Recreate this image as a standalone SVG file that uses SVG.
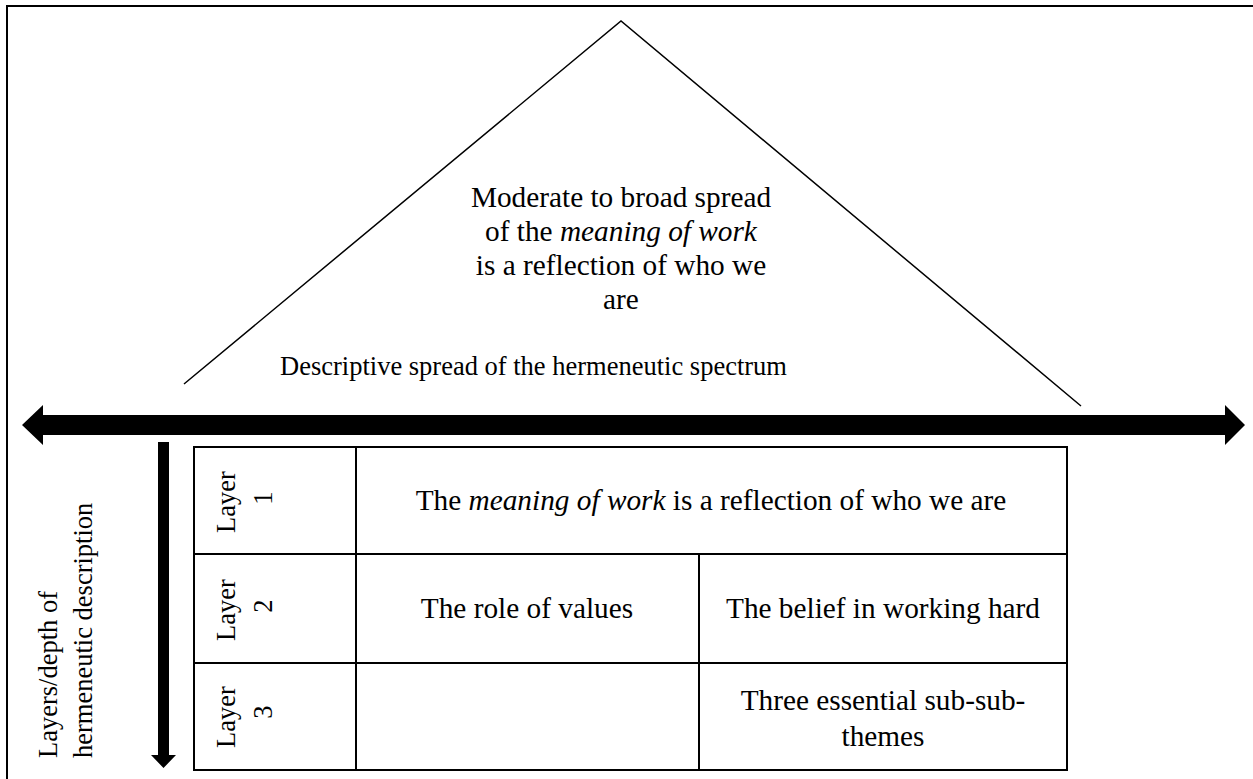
<svg xmlns="http://www.w3.org/2000/svg" width="1253" height="779" viewBox="0 0 1253 779">
<style>
.t{font-family:'Liberation Serif','Times New Roman',serif;font-size:29.3px;fill:#000}
.s{font-size:26.5px}
.it{font-style:italic}
.ln{stroke:#000;stroke-width:2;fill:none}
.thin{stroke:#000;stroke-width:1.5;fill:none}
</style>
<rect width="1253" height="779" fill="#fff"/>
<g id="frame">
<polyline class="ln" points="7,779 7,6 1253,6"/>
</g>
<g id="triangle">
<polyline class="thin" points="184,384 621,21 1081,406"/>
<text class="t" x="621" y="207" text-anchor="middle">Moderate to broad spread</text>
<text class="t" x="621" y="241" text-anchor="middle">of the <tspan class="it">meaning of work</tspan></text>
<text class="t" x="621" y="275" text-anchor="middle">is a reflection of who we</text>
<text class="t" x="621" y="309" text-anchor="middle">are</text>
<text class="t s" x="280" y="375">Descriptive spread of the hermeneutic spectrum</text>
</g>
<g id="connectors">
<polygon fill="#000" points="22,425 43,405 43,415 1225,415 1225,405 1245,425 1225,445 1225,435 43,435 43,445"/>
<polygon fill="#000" points="158,442 169,442 169,755 176,755 163.5,768 151,755 158,755"/>
</g>
<g id="axis-label">
<text class="t s" transform="translate(57,758) rotate(-90)">Layers/depth of</text>
<text class="t s" transform="translate(92,758) rotate(-90)">hermeneutic description</text>
</g>
<g id="table">
<rect class="ln" x="194" y="447" width="873" height="323"/>
<line class="ln" x1="356" y1="447" x2="356" y2="770"/>
<line class="ln" x1="194" y1="554" x2="1067" y2="554"/>
<line class="ln" x1="194" y1="663" x2="1067" y2="663"/>
<line class="ln" x1="699" y1="554" x2="699" y2="770"/>
</g>
<g id="layer1">
<text class="t s" text-anchor="middle" transform="translate(235,502) rotate(-90)">Layer</text>
<text class="t s" text-anchor="middle" transform="translate(272,498) rotate(-90)">1</text>
<text class="t" x="711" y="510" text-anchor="middle">The <tspan class="it">meaning of work</tspan> is a reflection of who we are</text>
</g>
<g id="layer2">
<text class="t s" text-anchor="middle" transform="translate(235,610) rotate(-90)">Layer</text>
<text class="t s" text-anchor="middle" transform="translate(272,606) rotate(-90)">2</text>
<text class="t" x="527" y="618" text-anchor="middle">The role of values</text>
<text class="t" x="883" y="618" text-anchor="middle">The belief in working hard</text>
</g>
<g id="layer3">
<text class="t s" text-anchor="middle" transform="translate(235,717) rotate(-90)">Layer</text>
<text class="t s" text-anchor="middle" transform="translate(272,712) rotate(-90)">3</text>
<text class="t" x="883" y="710" text-anchor="middle">Three essential sub-sub-</text>
<text class="t" x="883" y="746" text-anchor="middle">themes</text>
</g>
</svg>
